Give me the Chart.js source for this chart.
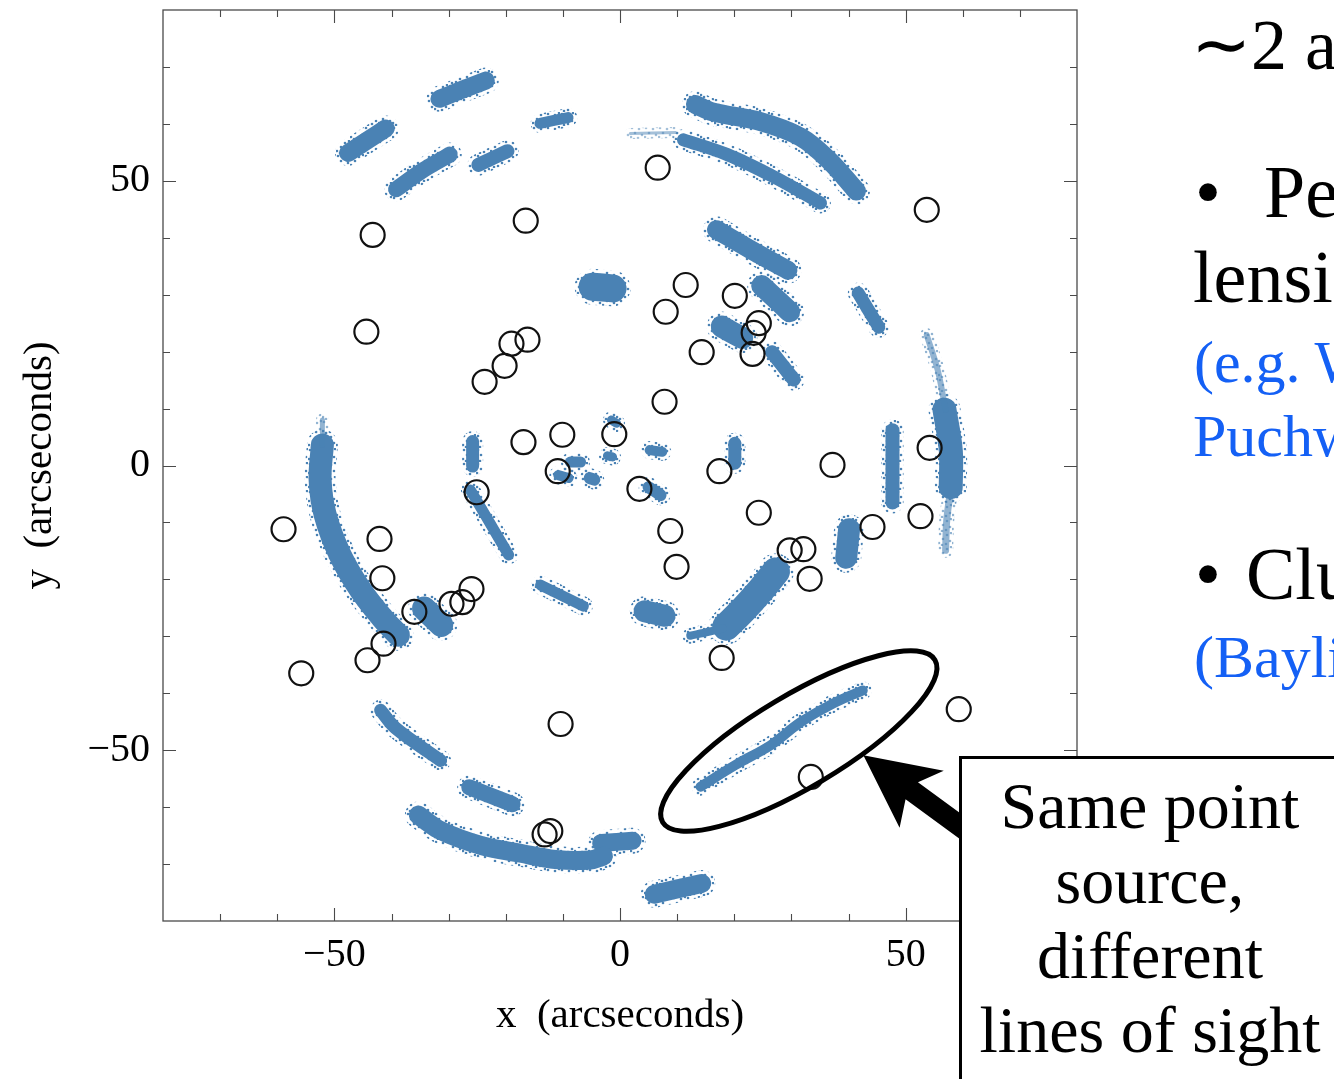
<!DOCTYPE html>
<html>
<head>
<meta charset="utf-8">
<script src="https://cdn.jsdelivr.net/npm/chart.js@4.4.1/dist/chart.umd.min.js"></script>
<style>
  html, body { margin: 0; padding: 0; background: #fff; overflow: hidden; width: 1334px; height: 1079px; }
  #wrap { position: relative; width: 1334px; height: 1079px; overflow: hidden; }
  #plot { position: absolute; left: 0; top: 0; }
  .t { position: absolute; font-family: 'Liberation Serif', 'Times New Roman', serif; white-space: pre; line-height: 1; color: #000; }
  .big { font-size: 74px; }
  .ref { font-size: 60px; color: #1460f5; }
  #box { position: absolute; left: 959px; top: 756px; width: 382px; height: 340px; box-sizing: border-box;
         border: 3px solid #000; background: #fff; }
  #box .ln { position: absolute; left: 0; width: 100%; text-align: center; font-size: 66px; }
</style>
</head>
<body>
<div id="wrap">
  <canvas id="plot" width="1334" height="1079"></canvas>

  <div class="t big" style="left:1191px; top:9px; font-size:72px;">∼2 arcsec</div>
  <div class="t big" style="left:1195px; top:155px;">•</div>
  <div class="t big" style="left:1264px; top:155px;">Perturbations</div>
  <div class="t big" style="left:1193px; top:240px;">lensing</div>
  <div class="t ref" style="left:1194px; top:332px;">(e.g. Wambsganss</div>
  <div class="t ref" style="left:1193px; top:406px;">Puchwein</div>
  <div class="t big" style="left:1195px; top:537px;">•</div>
  <div class="t big" style="left:1246px; top:537px;">Clusters</div>
  <div class="t ref" style="left:1194px; top:627px;">(Bayliss</div>

  <div id="box">
    <div class="t ln" style="top:14px;">Same point</div>
    <div class="t ln" style="top:89px;">source,</div>
    <div class="t ln" style="top:164px;">different</div>
    <div class="t ln" style="top:238px;">lines of sight</div>
  </div>
</div>

<script>
// Axis ticks (arcseconds)
const MAJOR_TICKS = [-50, 0, 50];
const MINOR_TICKS = [-70, -60, -50, -40, -30, -20, -10, 0, 10, 20, 30, 40, 50, 60, 70];

// Lensed images of the point source: each arc traced as (x, y) in arcseconds
const arcNW_a = [[-47.6, 54.9], [-44.4, 57.0], [-41.0, 59.2]];
const arcNW_b = [[-31.6, 64.4], [-27.6, 66.0], [-23.5, 67.6]];
const arcNW_c = [[-39.2, 48.5], [-34.9, 51.6], [-29.8, 54.6]];
const arcNW_d = [[-24.8, 52.8], [-19.7, 55.2]];
const arcN_e = [[-14.0, 60.1], [-9.1, 61.1]];
const arcN_trail = [[1.8, 58.3], [9.7, 58.5]];
const arcNE_outer = [[13.2, 63.4], [16.2, 62.1], [24.6, 60.4], [31.6, 57.7], [36.5, 53.7], [41.4, 48.2]];
const arcNE_inner = [[11.1, 57.2], [18.8, 54.6], [26.9, 50.7], [35.1, 46.1]];
const arcE_1 = [[16.9, 41.4], [22.9, 37.9], [29.4, 34.3]];
const arcE_2 = [[24.8, 31.6], [29.7, 27.0]];
const arcE_3 = [[17.8, 24.4], [21.4, 22.4]];
const arcE_4 = [[26.6, 19.9], [30.4, 15.1]];
const blobN_core = [[-4.8, 31.4], [-1.3, 31.1]];
const arcE_5 = [[41.7, 30.3], [45.3, 24.3]];
const arcE_rimTop = [[53.7, 22.9], [55.6, 16.8], [57.0, 9.8]];
const arcE_rim = [[56.8, 9.8], [57.9, 2.7], [57.9, -3.8]];
const arcE_rimBot = [[57.9, -4.0], [57.2, -9.6], [57.0, -14.9]];
const arcE_vert = [[47.7, 6.2], [47.7, -6.5]];
const knotC1 = [[5.2, 2.7], [7.4, 2.4]];
const knotC2 = [[20.1, 3.9], [20.1, 0.4]];
const knotC3 = [[5.0, -3.8], [7.1, -5.2]];
const knotC4 = [[-8.7, 0.6], [-6.9, 0.6]];
const knotC5 = [[-10.8, -1.7], [-9.0, -2.2]];
const knotC6 = [[-5.3, -2.2], [-4.5, -2.5]];
const knotC7 = [[-2.2, 1.7], [-1.3, 1.5]];
const knotC8 = [[-1.5, 8.0], [-0.6, 7.4]];
const arcSE_1 = [[40.1, -11.2], [39.6, -16.2]];
const arcSE_2tail = [[12.3, -29.9], [15.5, -29.2], [18.0, -28.6]];
const arcSE_2 = [[18.6, -28.3], [21.5, -25.4], [24.8, -21.7], [27.3, -18.6]];
const arcSE_3 = [[4.3, -25.6], [7.8, -26.4]];
const arcSE_ring = [[14.1, -56.4], [20.2, -52.6], [26.4, -49.1], [31.6, -45.1], [37.7, -41.6], [42.5, -39.5]];
const blobS_1 = [[6.0, -75.3], [14.3, -73.4]];
const arcSW_1 = [[-41.9, -43.0], [-39.3, -46.1], [-31.4, -51.8]];
const arcSW_2 = [[-26.4, -56.5], [-18.8, -59.5]];
const arcS_long = [[-35.3, -61.4], [-31.4, -64.1], [-24.4, -66.7], [-17.4, -68.1], [-11.3, -69.2], [-5.2, -69.3], [-2.9, -68.6]];
const arcS_end = [[-3.3, -66.3], [2.2, -65.9]];
const arcW_tip = [[-52.1, 8.0], [-52.1, 3.6]];
const arcW_long = [[-52.1, 3.6], [-52.5, -2.5], [-51.6, -8.7], [-49.0, -15.7], [-45.4, -21.9], [-41.6, -26.8], [-38.8, -29.8]];
const arcW_2 = [[-34.3, -25.1], [-31.3, -28.0]];
const arcW_3 = [[-25.8, 4.2], [-25.8, -0.1]];
const arcW_4 = [[-26.2, -4.3], [-23.6, -8.7], [-19.5, -15.7]];
const arcW_5 = [[-13.9, -21.0], [-6.4, -24.7]];

// Observed image positions (open circles), arcseconds
const circleX = [6.6, 53.7, -16.5, -43.3, 11.5, 20.1, 8.0, 24.3, 23.4, 23.2, 14.3, -44.4, -19.0, -16.2, -20.2,
                 -23.7, 7.8, -16.9, -10.1, -1.0, -10.9, 17.4, 37.2, 54.2, -25.1, 3.4, -58.9, -42.1, 24.3, 52.6,
                 44.2, 8.8, 29.7, 32.1, 9.9, -41.6, 33.2, -26.0, -27.6, -29.5, -36.0, -41.4, -44.2, -55.8, 17.8,
                 -10.4, 59.3, 33.4, -12.2, -13.2];
const circleY = [52.3, 44.9, 43.0, 40.5, 31.7, 29.8, 27.0, 25.0, 23.3, 19.6, 19.9, 23.5, 21.4, 22.1, 17.5,
                 14.7, 11.2, 4.1, 5.4, 5.5, -1.0, -1.0, 0.1, 3.1, -4.7, -4.1, -11.2, -12.9, -8.3, -8.9,
                 -10.8, -11.5, -14.9, -14.7, -17.8, -19.8, -19.9, -21.7, -24.0, -24.3, -25.7, -31.3, -34.2, -36.5, -33.8,
                 -45.4, -42.8, -54.7, -64.2, -64.8];

// Stroke width (px) and opacity for each traced arc
const ARC_STYLE = [
  [arcNW_a, 18, 1], [arcNW_b, 18, 1], [arcNW_c, 16, 1], [arcNW_d, 14, 1], [arcN_e, 11, 1],
  [arcN_trail, 3, 0.5], [arcNE_outer, 19, 1], [arcNE_inner, 13, 1], [arcE_1, 19, 1], [arcE_2, 21, 1],
  [arcE_3, 22, 1], [arcE_4, 14, 1], [blobN_core, 28, 1], [arcE_5, 13, 1], [arcE_rimTop, 6, 0.6],
  [arcE_rim, 24, 1], [arcE_rimBot, 7, 0.6], [arcE_vert, 14, 1],
  [knotC1, 10, 1], [knotC2, 13, 1], [knotC3, 12, 1], [knotC4, 11, 1], [knotC5, 10, 1], [knotC6, 12, 1],
  [knotC7, 9, 1], [knotC8, 9, 1],
  [arcSE_1, 22, 1], [arcSE_2tail, 8, 1], [arcSE_2, 28, 1], [arcSE_3, 22, 1], [arcSE_ring, 10, 1],
  [blobS_1, 19, 1], [arcSW_1, 13, 1], [arcSW_2, 16, 1], [arcS_long, 19, 1], [arcS_end, 18, 1],
  [arcW_tip, 5, 0.6], [arcW_long, 23, 1], [arcW_2, 24, 1], [arcW_3, 13, 1], [arcW_4, 11, 1], [arcW_5, 11, 1]
];

const SERIF = "'Liberation Serif', 'Times New Roman', serif";
const ARC_RGB = '74, 130, 180';

// Speckled stroke used for the fringe of each arc, so edges read as loose dots
function speckle(alpha) {
  const c = document.createElement('canvas');
  c.width = 14; c.height = 14;
  const g = c.getContext('2d');
  g.fillStyle = `rgba(${ARC_RGB}, ${alpha})`;
  const dots = [[2, 2], [9, 3], [5, 7], [12, 9], [1, 11], [8, 12], [13, 1], [4, 13]];
  dots.forEach(([px, py]) => { g.beginPath(); g.arc(px, py, 1.3, 0, Math.PI * 2); g.fill(); });
  return g.createPattern(c, 'repeat');
}

const toXY = pts => pts.map(p => ({ x: p[0], y: p[1] }));

const datasets = [];
datasets.push({
  label: 'images',
  data: circleX.map((x, i) => ({ x, y: circleY[i] })),
  pointRadius: 12,
  pointBorderWidth: 2.2,
  pointBorderColor: '#111',
  pointBackgroundColor: 'rgba(0,0,0,0)',
  showLine: false,
  order: 0
});
ARC_STYLE.forEach(([pts, w, a]) => {
  datasets.push({
    data: toXY(pts), showLine: true, pointRadius: 0, tension: 0.35,
    borderColor: `rgba(${ARC_RGB}, ${a})`, borderWidth: w,
    borderCapStyle: 'round', borderJoinStyle: 'round', order: 1
  });
  datasets.push({
    data: toXY(pts), showLine: true, pointRadius: 0, tension: 0.35,
    borderColor: speckle(a), borderWidth: w + 8,
    borderCapStyle: 'round', borderJoinStyle: 'round', order: 2
  });
});

const fmt = v => (v < 0 ? '\u2212' + Math.abs(v) : String(v));

// Mathematica-style frame with inward ticks on all four sides
const framePlugin = {
  id: 'frame',
  afterDatasetsDraw(chart) {
    const { ctx, chartArea: a, scales: { x, y } } = chart;
    ctx.save();
    ctx.strokeStyle = '#4a4a4a';
    ctx.lineWidth = 1.3;
    ctx.strokeRect(a.left, a.top, a.right - a.left, a.bottom - a.top);
    ctx.lineWidth = 1.1;
    ctx.beginPath();
    MINOR_TICKS.forEach(v => {
      const L = MAJOR_TICKS.includes(v) ? 13 : 7;
      const px = Math.round(x.getPixelForValue(v)) + 0.5;
      const py = Math.round(y.getPixelForValue(v)) + 0.5;
      ctx.moveTo(px, a.bottom); ctx.lineTo(px, a.bottom - L);
      ctx.moveTo(px, a.top); ctx.lineTo(px, a.top + L);
      ctx.moveTo(a.left, py); ctx.lineTo(a.left + L, py);
      ctx.moveTo(a.right, py); ctx.lineTo(a.right - L, py);
    });
    ctx.stroke();
    ctx.restore();
  }
};

// Ellipse around one image family and the arrow pointing at it
const ELLIPSE_CENTRE = [31.3, -48.4];
const ARROW_TIP = [42.6, -50.9];
const calloutPlugin = {
  id: 'callout',
  afterDraw(chart) {
    const { ctx, scales: { x, y } } = chart;
    ctx.save();
    const cx = x.getPixelForValue(ELLIPSE_CENTRE[0]);
    const cy = y.getPixelForValue(ELLIPSE_CENTRE[1]);
    ctx.strokeStyle = '#000';
    ctx.lineWidth = 5;
    ctx.beginPath();
    ctx.ellipse(cx, cy, 158.5, 46, -30.8 * Math.PI / 180, 0, Math.PI * 2);
    ctx.stroke();

    const tx = x.getPixelForValue(ARROW_TIP[0]);
    const ty = y.getPixelForValue(ARROW_TIP[1]);
    const ang = Math.atan2(71, 97);
    const d = [Math.cos(ang), Math.sin(ang)];
    const n = [-Math.sin(ang), Math.cos(ang)];
    const P = (s, t) => [tx + d[0] * s + n[0] * t, ty + d[1] * s + n[1] * t];
    const shape = [P(0, 0), P(72, 37), P(60, 10.5), P(170, 10.5), P(170, -10.5), P(60, -10.5), P(74, -35)];
    ctx.fillStyle = '#000';
    ctx.beginPath();
    shape.forEach((p, i) => (i ? ctx.lineTo(p[0], p[1]) : ctx.moveTo(p[0], p[1])));
    ctx.closePath();
    ctx.fill();
    ctx.restore();
  }
};

new Chart(document.getElementById('plot'), {
  type: 'scatter',
  data: { datasets },
  options: {
    responsive: false,
    animation: false,
    devicePixelRatio: 1,
    layout: { autoPadding: false, padding: { left: 0, top: 10, right: 257, bottom: 0 } },
    plugins: { legend: { display: false }, tooltip: { enabled: false } },
    scales: {
      x: {
        type: 'linear', min: -80, max: 80,
        grid: { display: false, drawTicks: false },
        border: { display: false },
        afterBuildTicks: s => { s.ticks = MAJOR_TICKS.map(v => ({ value: v })); },
        afterFit: s => { s.height = 158; s.paddingLeft = 0; s.paddingRight = 0; },
        ticks: { font: { family: SERIF, size: 40 }, color: '#000', padding: 10, maxRotation: 0, autoSkip: false, callback: fmt },
        title: { display: true, text: 'x  (arcseconds)', color: '#000',
                 font: { family: SERIF, size: 41, lineHeight: 1.2 }, padding: { top: 0, bottom: 38 } }
      },
      y: {
        type: 'linear', min: -80, max: 80,
        grid: { display: false, drawTicks: false },
        border: { display: false },
        afterBuildTicks: s => { s.ticks = MAJOR_TICKS.map(v => ({ value: v })); },
        afterFit: s => { s.width = 163; s.paddingTop = 0; s.paddingBottom = 0; },
        ticks: { font: { family: SERIF, size: 40 }, color: '#000', padding: 13, autoSkip: false, callback: fmt },
        title: { display: true, text: 'y  (arcseconds)', color: '#000',
                 font: { family: SERIF, size: 41, lineHeight: 1.2 }, padding: { top: 16, bottom: 0 } }
      }
    }
  },
  plugins: [framePlugin, calloutPlugin]
});
</script>
</body>
</html>
